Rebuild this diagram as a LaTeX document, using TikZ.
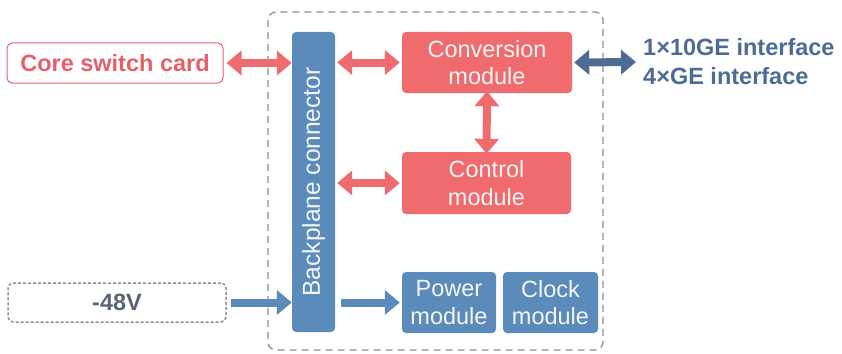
\documentclass[tikz,border=0pt]{standalone}
\usepackage{fontspec}
\setmainfont{Liberation Sans}
\usetikzlibrary{arrows.meta,calc}
\definecolor{redm}{HTML}{EF6B6E}
\definecolor{redt}{HTML}{E5606A}
\definecolor{bluem}{HTML}{5B8BBA}
\definecolor{blued}{HTML}{4E6B94}
\definecolor{grayd}{HTML}{8A8F99}
\definecolor{textg}{HTML}{5A6475}
\tikzset{
  mod/.style={draw=none, rounded corners=4pt, text=white!92!gray, font=\fontsize{23.5}{27.5}\selectfont, align=center, inner sep=0pt},
  redmod/.style={mod, fill=redm},
  bluemod/.style={mod, fill=bluem},
  fatdbl/.style={line width=8pt, {Triangle[length=15pt,width=24pt]}-{Triangle[length=15pt,width=24pt]}},
  fatone/.style={line width=8pt, -{Triangle[length=15pt,width=24pt]}},
}
\begin{document}
\begin{tikzpicture}[x=1pt,y=-1pt]
\useasboundingbox (0,0) rectangle (842,353);
% outer dashed box
\draw[grayd, line width=1.3pt, dash pattern=on 7pt off 5pt, rounded corners=8pt] (268,12) rectangle (603,350);
% backplane
\node[bluemod, minimum width=43pt, minimum height=300pt] (bp) at (313.5,182) {};
\node[rotate=90, text=white!92!gray, font=\fontsize{24.5}{28}\selectfont] at (bp.center) {Backplane connector};
% modules
\node[redmod, minimum width=170pt, minimum height=61pt] (conv) at (487,62.5) {Conversion\\module};
\node[redmod, minimum width=169pt, minimum height=62pt] (ctrl) at (486.5,183) {Control\\module};
\node[bluemod, minimum width=94pt, minimum height=61pt] (pwr) at (449,302.5) {Power\\module};
\node[bluemod, minimum width=95pt, minimum height=61pt] (clk) at (550.5,302.5) {Clock\\module};
% external
\node[draw=redt, line width=1pt, rounded corners=5pt, minimum width=216pt, minimum height=40pt, text=redt, font=\bfseries\fontsize{23.5}{27}\selectfont, inner sep=0pt] (core) at (115,63) {Core switch card};
\node[draw=grayd, line width=1.5pt, dash pattern=on 3pt off 2pt, rounded corners=5pt, minimum width=218pt, minimum height=39pt, text=textg, font=\bfseries\fontsize{23.5}{27}\selectfont, inner sep=0pt] (v48) at (117,302.5) {-48V};
\node[text=blued, font=\bfseries\fontsize{23.5}{29}\selectfont, align=left, anchor=west, inner sep=0pt] (iface) at (643,62) {1×10GE interface\\4×GE interface};
% arrows
\draw[redm, fatdbl] ($(core.east)+(3pt,0)$) -- (core.east -| bp.west);
\draw[redm, fatdbl] ($(bp.east |- conv.west)+(2pt,0)$) -- ($(conv.west)+(-2pt,0)$);
\draw[redm, fatdbl] ($(bp.east |- ctrl.west)+(2pt,0)$) -- ($(ctrl.west)+(-2pt,0)$);
\draw[redm, fatdbl] ($(conv.south)+(0,2pt)$) -- ($(ctrl.north)+(0,-2pt)$);
\draw[blued, fatdbl] ($(conv.east)+(2pt,0)$) -- ($(iface.west)+(-7pt,0)$);
\draw[bluem, fatone] ($(v48.east)+(4pt,0)$) -- (v48.east -| bp.west);
\draw[bluem, fatone] ($(bp.east |- pwr.west)+(6pt,0)$) -- ($(pwr.west)+(-2pt,0)$);
\end{tikzpicture}
\end{document}
